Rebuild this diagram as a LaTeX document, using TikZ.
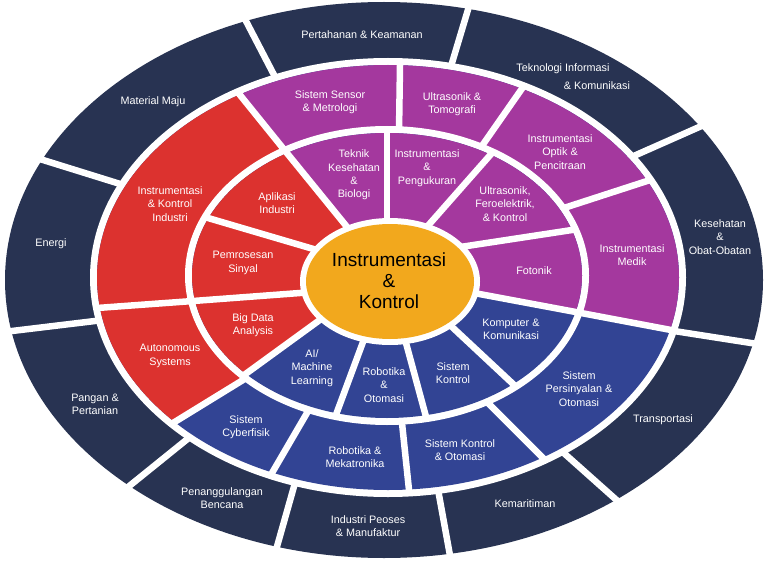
\documentclass[tikz,border=0pt]{standalone}
\usepackage{fontspec}
\setmainfont{Liberation Sans}
\definecolor{cnavy}{RGB}{40,51,82}
\definecolor{cred}{RGB}{220,50,47}
\definecolor{cpurple}{RGB}{164,56,158}
\definecolor{cblue}{RGB}{50,68,148}
\definecolor{corange}{RGB}{242,168,29}
\newcommand\ringfill{%
  \fill[cblue] (0,0) rectangle (768,567);
  \fill[cred] (388,280) -- (343,222) -- (150,-16) -- (-50,-16) -- (-50,579) -- (173,423) -- (242,379) -- (317,322) -- cycle;
  \fill[cpurple] (388,280) -- (343,222) -- (150,-16) -- (850,-16) -- (850,364) -- (671,330) -- (474,293) -- cycle;
}
\begin{document}
\begin{tikzpicture}[x=1pt,y=-1pt,
  divider/.style={white, line width=6.5pt, shorten <=-10pt, shorten >=-22pt},
  lab/.style={text=white, font=\fontsize{10.8}{13.3}\selectfont, align=center, inner sep=0pt},
  ctr/.style={text=black, font=\fontsize{19}{21}\selectfont, align=center, inner sep=0pt}]
\useasboundingbox[fill=white] (0,0) rectangle (768,567);
% outer navy ring
\fill[cnavy] (384,280) ellipse [x radius=379pt, y radius=278pt];
\foreach \a/\b in {{(247,23)}/{(273,73)}, {(467,13)}/{(452,63)}, {(697,128)}/{(636,155)},
  {(751,343)}/{(674,331)}, {(612,496)}/{(566,455)}, {(449,550)}/{(439,495)},
  {(278,543)}/{(293,490)}, {(133,483)}/{(185,441)}, {(12,331)}/{(95,321)}, {(43,160)}/{(117,183)}}
  \draw[divider] \a -- \b;
% middle ring
\fill[white] (388,277.5) ellipse [x radius=298pt, y radius=219.5pt];
\begin{scope}
  \clip (388,277.5) ellipse [x radius=291pt, y radius=212.5pt];
  \ringfill
\end{scope}
\begin{scope}
  \clip (388,277.5) ellipse [x radius=294pt, y radius=215.5pt];
  \foreach \a/\b in {{(240,95)}/{(282,147)}, {(400,65)}/{(399,132)}, {(521,90)}/{(484,143)},
    {(644,182)}/{(567,207)}, {(671,330)}/{(581,313)}, {(541,456)}/{(491,406)},
    {(409,490)}/{(402,423)}, {(272,473)}/{(307,413)}, {(173,423)}/{(243,380)}, {(97,308)}/{(193,301)}}
    \draw[divider] \a -- \b;
\end{scope}
% inner ring
\fill[white] (387,275.5) ellipse [x radius=202pt, y radius=149.5pt];
\begin{scope}
  \clip (387,275.5) ellipse [x radius=195pt, y radius=142.5pt];
  \ringfill
\end{scope}
\begin{scope}
  \clip (387,275.5) ellipse [x radius=198pt, y radius=145.5pt];
  \foreach \a/\b in {{(282,147)}/{(343,222)}, {(387,133)}/{(387,217)}, {(492,153)}/{(433,220)},
    {(572,230)}/{(467,246)}, {(581,313)}/{(474,293)}, {(512,383)}/{(451,326)},
    {(425,413)}/{(406,343)}, {(337,412)}/{(363,342)}, {(240,378)}/{(317,322)},
    {(193,301)}/{(300,293)}, {(208,218)}/{(310,248)}}
    \draw[divider, shorten >=-15pt] \a -- \b;
\end{scope}
% center
\fill[white] (390,281.5) ellipse [x radius=90pt, y radius=63.5pt];
\fill[corange] (390,281.5) ellipse [x radius=84pt, y radius=57.5pt];
\node[ctr] (center) at (389,281) {Instrumentasi\\\&\\Kontrol};
% outer labels
\node[lab] (o1) at (362,35) {Pertahanan \& Keamanan};
\node[lab] (o2a) at (563,69) {Teknologi Informasi};
\node[lab] (o2b) at (597,86) {\& Komunikasi};
\node[lab] (o3) at (720,237) {Kesehatan\\\&\\Obat-Obatan};
\node[lab] (o4) at (663,420) {Transportasi};
\node[lab] (o5) at (525,504) {Kemaritiman};
\node[lab] (o6) at (368,526) {Industri Peoses\\\& Manufaktur};
\node[lab] (o7) at (222,498) {Penanggulangan\\Bencana};
\node[lab] (o8) at (95,404) {Pangan \&\\Pertanian};
\node[lab] (o9) at (51,244) {Energi};
\node[lab] (o10) at (153,102) {Material Maju};
% middle labels
\node[lab] (m1) at (170,204) {Instrumentasi\\\& Kontrol\\Industri};
\node[lab] (m2) at (170,356) {Autonomous\\Systems};
\node[lab] (m3) at (330,102) {Sistem Sensor\\\& Metrologi};
\node[lab] (m4) at (452,104) {Ultrasonik \&\\Tomografi};
\node[lab] (m5) at (560,152) {Instrumentasi\\Optik \&\\Pencitraan};
\node[lab] (m6) at (632,255) {Instrumentasi\\Medik};
\node[lab] (m7) at (579,389) {Sistem\\Persinyalan \&\\Otomasi};
\node[lab] (m8) at (460,450) {Sistem Kontrol\\\& Otomasi};
\node[lab] (m9) at (355,457) {Robotika \&\\Mekatronika};
\node[lab] (m10) at (246,427) {Sistem\\Cyberfisik};
% inner labels
\node[lab] (i1) at (277,203) {Aplikasi\\Industri};
\node[lab] (i2) at (243,263) {Pemrosesan\\Sinyal};
\node[lab] (i3) at (253,325) {Big Data\\Analysis};
\node[lab] (i4) at (354,175) {Teknik\\Kesehatan\\\&\\Biologi};
\node[lab] (i5) at (427,168) {Instrumentasi\\\&\\Pengukuran};
\node[lab] (i6) at (505,204) {Ultrasonik,\\Feroelektrik,\\\& Kontrol};
\node[lab] (i7) at (534,271) {Fotonik};
\node[lab] (i8) at (511,329) {Komputer \&\\Komunikasi};
\node[lab] (i9) at (453,373) {Sistem\\Kontrol};
\node[lab] (i10) at (384,385) {Robotika\\\&\\Otomasi};
\node[lab] (i11) at (312,368) {AI/\\Machine\\Learning};
\end{tikzpicture}
\end{document}
